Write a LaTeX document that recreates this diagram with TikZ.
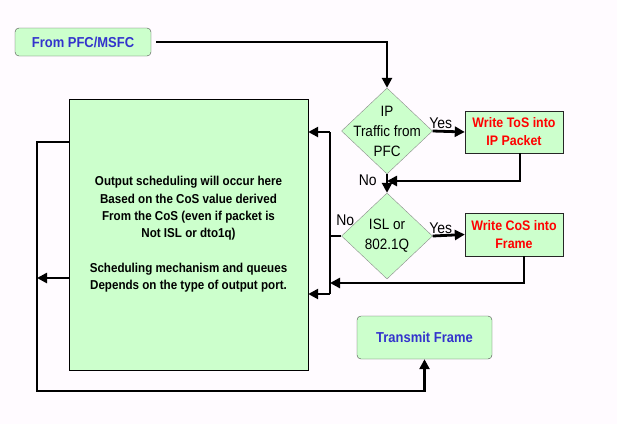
\documentclass[tikz,border=0pt]{standalone}
\usepackage{fontspec}
\setmainfont[FakeStretch=0.9]{Liberation Sans}
\usetikzlibrary{arrows.meta,positioning,calc,shapes.geometric}
\definecolor{boxgreen}{HTML}{CCFFCC}
\definecolor{txtblue}{HTML}{3333CC}
\definecolor{pagebg}{HTML}{FFFBFF}

\begin{document}
\begin{tikzpicture}[x=1pt,y=-1pt,
          flow/.style={black, line width=2.8pt, -{Triangle[length=10pt,width=10pt]}},
          wire/.style={black, line width=2.8pt},
          term/.style={draw=black!70, fill=boxgreen, rounded corners=4pt, text=txtblue, inner sep=0pt,
                       font=\bfseries\fontsize{14.4}{16}\selectfont},
          proc/.style={draw=black!85, fill=boxgreen, text=red, align=center, inner sep=0pt,
                       font=\bfseries\fontsize{13.8}{18}\selectfont},
          query/.style={diamond, draw=black!45, fill=boxgreen, inner sep=0pt, minimum width=91pt, minimum height=86pt},
          qtext/.style={align=center, inner sep=0pt, font=\fontsize{15}{20}\selectfont},
          lbl/.style={inner sep=1pt, font=\fontsize{15.5}{16}\selectfont}
        ]
          % Hintergrund
          \fill[pagebg] (0,0) rectangle (617,424);
          \useasboundingbox (0,0) rectangle (617,424);

          % Knoten
          \node[term, minimum width=136pt, minimum height=28pt] (src) at (83,42) {From PFC/MSFC};
          \node[query] (ipq) at (387,131) {};
          \node[qtext] (ipqt) at (ipq) {IP\\Traffic from\\PFC};
          \node[proc, minimum width=98pt, minimum height=42pt] (tos) at (514,132) {Write ToS into\\IP Packet};
          \node[query] (islq) at (387,236) {};
          \node[qtext] (islqt) at (islq) {ISL or\\802.1Q};
          \node[proc, minimum width=98pt, minimum height=43pt] (cos) at (514,234.5) {Write CoS into\\Frame};
          \node[draw=black, fill=boxgreen, minimum width=239pt, minimum height=271pt, align=center,
                font=\bfseries\fontsize{12.9}{17.3}\selectfont] (sched) at (188.5,234.5)
                {Output scheduling will occur here\\Based on the CoS value derived\\From the CoS (even if packet is\\
                 Not ISL or dto1q)\\[17.3pt]Scheduling mechanism and queues\\Depends on the type of output port.};
          \node[term, minimum width=135pt, minimum height=43pt] (tx) at (424.5,337.5) {Transmit Frame};

          % Hilfspunkte
          \coordinate (j1) at (387,181);
          \coordinate (j2) at (330,283);
          \coordinate (busT) at (330,132);
          \coordinate (busB) at (330,294);
          \coordinate (lt) at (37,142);
          \coordinate (lm) at (37,278);
          \coordinate (lb) at (37,391);

          % Eingang
          \draw[flow, shorten <=5pt] (src.east) -| (ipq.north);

          % IP-Abfrage
          \draw[flow] (ipq.east) -- node[lbl, above, pos=0.25] {Yes} (tos.west);
          \draw[flow] ($(tos.south)+(6,0)$) |- (j1);
          \draw[flow] (ipq.south) -- node[lbl, left, pos=0.3, xshift=-8pt] {No} (islq.north);

          % ISL-Abfrage
          \draw[flow] (islq.east) -- node[lbl, above, pos=0.25] {Yes} (cos.west);
          \draw[flow] ($(cos.south)+(10,0)$) |- (j2);
          \draw[wire] (islq.west) -- node[lbl, above, pos=0, xshift=4pt, yshift=8pt] {No} (islq.west -| busT);

          % Sammelleitung
          \draw[wire] (busT) -- (busB);
          \draw[flow] (busT) -- (busT -| sched.east);
          \draw[flow] (busB) -- (busB -| sched.east);

          % Ausgang
          \draw[flow] (lt -| sched.west) -- (lt) -- (lb) -| (tx.south);
          \draw[flow] (lm -| sched.west) -- (lm);
        \end{tikzpicture}
\end{document}
